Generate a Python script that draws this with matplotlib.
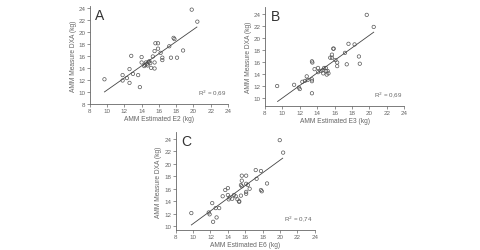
import numpy as np
import matplotlib.pyplot as plt

plt.rcParams['font.family'] = ['Liberation Sans', 'DejaVu Sans']

# panel A: AMM estimated E2 vs DXA
a_x = [19.8, 20.45, 18.8, 17.7, 17.8, 17.2, 15.6, 15.9, 15.9, 15.5, 15.3, 16.2, 16.4, 16.4,
       17.4, 18.1, 12.8, 14.0, 14.0, 14.6, 14.8, 15.0, 14.5, 14.7, 14.3, 15.1, 15.5, 15.5,
       12.6, 13.0, 13.6, 11.8, 12.3, 11.8, 12.6, 13.8, 9.7, 14.4, 14.9]
a_y = [23.7, 21.7, 16.9, 19.0, 18.8, 17.6, 18.1, 18.1, 17.2, 16.8, 15.9, 16.5, 15.7, 15.3,
       15.7, 15.7, 16.0, 15.8, 14.9, 14.6, 15.0, 14.8, 14.9, 14.4, 14.3, 14.0, 14.9, 13.9,
       13.8, 13.0, 12.8, 12.8, 12.3, 11.9, 11.5, 10.8, 12.1, 14.5, 15.1]
# panel B: AMM estimated E3 vs DXA
b_x = [19.7, 20.5, 18.3, 17.6, 17.2, 18.8, 18.9, 17.4, 15.85, 15.9, 15.7, 15.5, 15.7, 16.1,
       16.3, 16.3, 13.4, 13.45, 13.7, 14.1, 14.4, 14.6, 14.8, 15.0, 14.7, 15.1, 15.2, 15.3,
       15.0, 14.1, 12.8, 12.9, 13.4, 13.4, 12.6, 12.3, 11.35, 11.9, 12.0, 13.4, 9.4]
b_y = [23.8, 21.8, 18.9, 19.0, 17.5, 16.9, 15.7, 15.6, 18.2, 18.2, 17.2, 16.7, 16.7, 16.3,
       15.9, 15.3, 16.1, 15.9, 14.8, 15.0, 14.5, 14.6, 15.0, 15.0, 14.1, 13.9, 14.5, 14.1,
       14.5, 14.3, 13.6, 13.0, 12.8, 13.1, 12.85, 12.7, 12.2, 11.75, 11.5, 10.8, 12.0]
# panel C: AMM estimated E6 vs DXA
c_x = [19.96, 20.35, 17.2, 17.8, 15.6, 16.1, 15.6, 15.5, 15.6, 16.1, 16.5, 16.1, 16.1, 17.8,
       17.9, 17.3, 18.5, 13.7, 14.0, 13.4, 14.0, 14.1, 14.7, 14.9, 14.5, 15.1, 15.3, 15.3,
       15.5, 12.2, 12.6, 13.0, 11.8, 11.9, 12.7, 12.3, 9.8, 14.2, 16.3]
c_y = [23.8, 21.8, 19.0, 18.85, 18.1, 18.1, 17.3, 16.6, 16.4, 16.8, 16.0, 15.5, 15.2, 15.8,
       15.6, 17.6, 16.85, 15.8, 16.1, 14.8, 15.0, 14.3, 15.0, 14.8, 14.4, 14.3, 14.0, 13.9,
       14.9, 13.7, 12.9, 12.9, 12.2, 11.9, 11.4, 10.7, 12.1, 14.6, 16.6]

# regression lines: x range, slope, intercept
fit_a = ([9.7, 20.4], 1.01, 0.2)
fit_b = ([9.45, 20.5], 1.04, -0.39)
fit_c = ([9.8, 20.3], 1.02, 0.2)

letters = ['A', 'B', 'C']
xlabels = ['AMM Estimated E2 (kg)', 'AMM Estimated E3 (kg)', 'AMM Estimated E6 (kg)']
r2 = ['0,69', '0,69', '0,74']
ticks = [8, 10, 12, 14, 16, 18, 20, 22, 24]

fig = plt.figure(figsize=(4.8, 2.51), dpi=100)
boxes = [[0.187, 0.582, 0.288, 0.39], [0.552, 0.574, 0.29, 0.394], [0.366, 0.08, 0.29, 0.39]]
ylims = [(8, 24.3), (8.7, 25.1), (9.4, 25.1)]
data = [(a_x, a_y, fit_a), (b_x, b_y, fit_b), (c_x, c_y, fit_c)]
grey = '#666666'

for i, (xs, ys, fit) in enumerate(data):
    ax = fig.add_axes(boxes[i])
    ax.scatter(xs, ys, s=6, facecolors='none', edgecolors='#555555', linewidths=0.5)
    fx = np.array(fit[0])
    ax.plot(fx, fit[1] * fx + fit[2], color='#444444', lw=0.6)
    ax.set_xlim(8, 24)
    ax.set_ylim(*ylims[i])
    ax.set_xticks(ticks)
    ax.set_yticks([t for t in ticks if t >= ylims[i][0]])
    for s in ['top', 'right']:
        ax.spines[s].set_visible(False)
    for s in ['left', 'bottom']:
        ax.spines[s].set_color(grey)
        ax.spines[s].set_linewidth(0.6)
    ax.tick_params(labelsize=4.5, colors=grey, length=2, width=0.5, pad=1)
    ax.set_xlabel(xlabels[i], fontsize=4.8, color=grey, labelpad=1.5)
    ax.set_ylabel('AMM Measure DXA (kg)', fontsize=4.8, color=grey, labelpad=1.5)
    ax.text(0.04, 0.98, letters[i], transform=ax.transAxes, fontsize=10, color='#333333',
            ha='left', va='top')
    ax.text(0.78, 0.1, 'R$^2$ = ' + r2[i], transform=ax.transAxes, fontsize=4.5, color=grey)

fig.savefig('out.png', dpi=100)
